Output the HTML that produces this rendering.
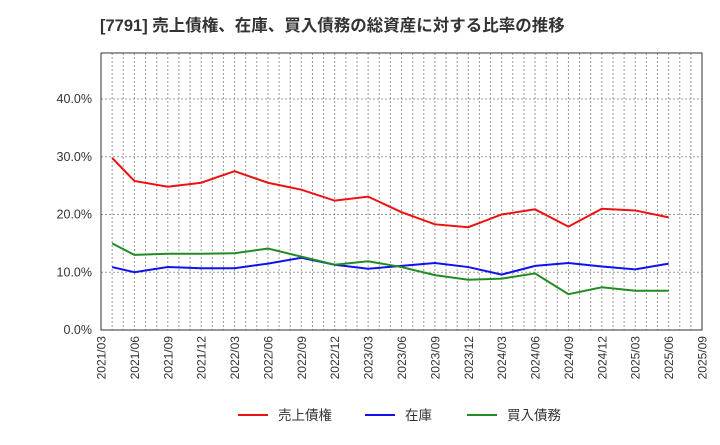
<!DOCTYPE html>
<html><head><meta charset="utf-8"><style>
body{margin:0;background:#fff;font-family:"Liberation Sans","Noto Sans CJK JP",sans-serif;}
</style></head><body>
<svg width="720" height="440" xmlns="http://www.w3.org/2000/svg" font-family="Liberation Sans, Noto Sans CJK JP, sans-serif">
<text x="100" y="31" font-size="16.5" font-weight="bold" fill="#333">[7791]  売上債権、在庫、買入債務の総資産に対する比率の推移</text>
<g id="grid"></g>
<g id="axes"></g>
<g id="series"></g>
<g id="legend"></g>
</svg>
<script>
const xTicks=["2021/03","2021/06","2021/09","2021/12","2022/03","2022/06","2022/09","2022/12","2023/03","2023/06","2023/09","2023/12","2024/03","2024/06","2024/09","2024/12","2025/03","2025/06","2025/09"];
const yTicks=[0,10,20,30,40];
const months=[1,3,6,9,12,15,18,21,24,27,30,33,36,39,42,45,48,51];
const receivables=[29.8,25.8,24.8,25.5,27.5,25.5,24.3,22.4,23.1,20.4,18.3,17.8,20.0,20.9,17.9,21.0,20.7,19.5];
const inventory=[10.9,10.0,10.9,10.7,10.7,11.5,12.5,11.3,10.6,11.1,11.6,10.9,9.6,11.1,11.6,11.0,10.5,11.5];
const payables=[15.0,13.0,13.2,13.2,13.3,14.1,12.7,11.3,11.9,10.9,9.5,8.7,8.9,9.8,6.2,7.4,6.8,6.8];
const seriesNames=["売上債権","在庫","買入債務"];
const NS="http://www.w3.org/2000/svg";
const L=101,R=702,T=53,B=330;
const xs=m=>L+(R-L)*m/54;
const ys=v=>B-(B-99)*v/40;
function mk(tag,attrs,parent){const e=document.createElementNS(NS,tag);for(const k in attrs)e.setAttribute(k,attrs[k]);parent.appendChild(e);return e;}
const grid=document.getElementById('grid'),axes=document.getElementById('axes'),ser=document.getElementById('series'),leg=document.getElementById('legend');
for(let m=1;m<54;m++){const l=mk('line',{x1:xs(m),x2:xs(m),y1:T,y2:B,stroke:'#999','stroke-dasharray':'2,2','stroke-width':1},grid);

}
yTicks.forEach(v=>{if(v>0){const l=mk('line',{x1:L,x2:R,y1:ys(v),y2:ys(v),stroke:'#999','stroke-dasharray':'2,2'},grid);

}
const t=mk('text',{x:L-9,y:ys(v)+4,'font-size':12.5,'text-anchor':'end',fill:'#333'},axes);t.textContent=v.toFixed(1)+'%';

});
const frame=mk('rect',{x:L,y:T,width:R-L,height:B-T,fill:'none',stroke:'#333'},axes);


xTicks.forEach((s,i)=>{const x=xs(i*3);const t=mk('text',{x:x+4.5,y:B+6,'font-size':12,'text-anchor':'end',fill:'#333',transform:`rotate(-90 ${x+4.5} ${B+6})`},axes);t.textContent=s;

});
const cols=["#ee1111","#1111ee","#228b22"];
[receivables,inventory,payables].forEach((d,si)=>{const p=mk('polyline',{points:d.map((v,i)=>xs(months[i])+','+ys(v)).join(' '),fill:'none',stroke:cols[si],'stroke-width':2},ser);


const lx=[238,365,467][si];
const ll=mk('line',{x1:lx,x2:lx+30,y1:415,y2:415,stroke:cols[si],'stroke-width':2},leg);


const lt=mk('text',{x:lx+40,y:420,'font-size':13.5,fill:'#333'},leg);lt.textContent=seriesNames[si];

});
</script>
</body></html>
